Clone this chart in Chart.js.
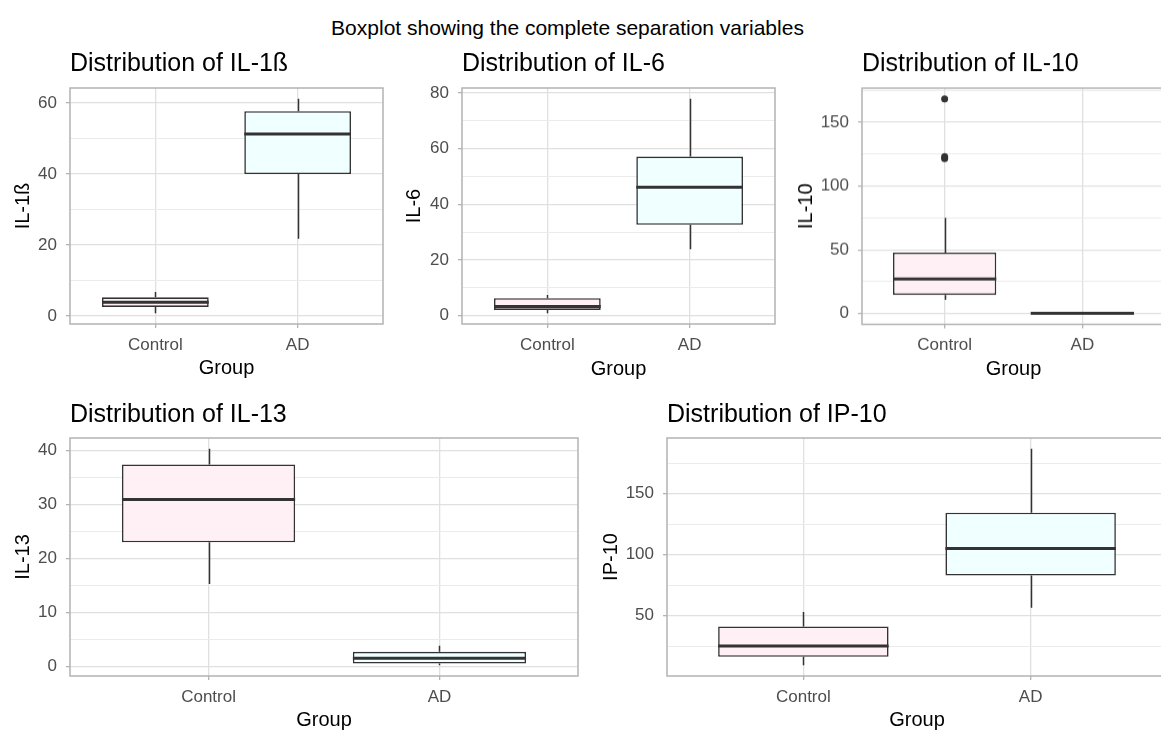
<!DOCTYPE html>
<html>
<head>
<meta charset="utf-8">
<script src="https://cdn.jsdelivr.net/npm/chart.js@4.4.1/dist/chart.umd.min.js"></script>
<style>
  html, body { margin: 0; padding: 0; background: #fff; }
  body { width: 1161px; height: 731px; overflow: hidden; position: relative; font-family: "Liberation Sans", Arial, sans-serif; }
  #mainTitle { position: absolute; left: 0; top: 15px; width: 1135px; text-align: center; font-size: 21px; line-height: 25px; color: #000; }
  canvas { position: absolute; }
</style>
</head>
<body>
<div id="mainTitle">Boxplot showing the complete separation variables</div>
<script>
// groups on the x axis
const groups = ['Control', 'AD'];
const groupFill = ['#FFF0F5', '#F0FFFF'];

// IL-1ß (Control, AD)
const il1bMin = [0.8, 21.8];
const il1bQ1 = [2.6, 40.0];
const il1bMed = [3.9, 51.3];
const il1bQ3 = [5.3, 57.7];
const il1bMax = [6.8, 61.2];
const il1bOut = [[], []];
const il1bTicks = [0, 20, 40, 60];

// IL-6
const il6Min = [0.8, 23.8];
const il6Q1 = [2.0, 32.6];
const il6Med = [3.2, 46.1];
const il6Q3 = [6.2, 57.1];
const il6Max = [7.4, 77.9];
const il6Out = [[], []];
const il6Ticks = [0, 20, 40, 60, 80];

// IL-10
const il10Min = [10.9, 0.0];
const il10Q1 = [14.6, 0.1];
const il10Med = [27.1, 0.3];
const il10Q3 = [47.8, 0.5];
const il10Max = [75.1, 0.8];
const il10Out = [[121.5, 123.0, 168.3], []];
const il10Ticks = [0, 50, 100, 150];

// IL-13
const il13Min = [15.3, 0.26];
const il13Q1 = [23.0, 0.56];
const il13Med = [30.9, 1.56];
const il13Q3 = [37.4, 2.74];
const il13Max = [40.3, 3.85];
const il13Out = [[], []];
const il13Ticks = [0, 10, 20, 30, 40];

// IP-10
const ip10Min = [9.4, 56.5];
const ip10Q1 = [16.3, 82.8];
const ip10Med = [25.1, 105.0];
const ip10Q3 = [41.2, 134.3];
const ip10Max = [53.0, 186.7];
const ip10Out = [[], []];
const ip10Ticks = [50, 100, 150];

const FONT = "'Liberation Sans', Arial, sans-serif";
Chart.defaults.font.family = FONT;

const TITLE_SIZE = 25;
const AXIS_TITLE_SIZE = 20;
const TICK_SIZE = 17;

// whiskers under the boxes, medians on top
const boxWhiskers = {
    id: 'boxWhiskers',
    beforeDatasetsDraw(chart, args, opts) {
        const { ctx, scales: { x, y } } = chart;
        ctx.save();
        ctx.strokeStyle = '#333333';
        ctx.lineWidth = 1.5;
        opts.q1.forEach((q, i) => {
            const px = Math.round(x.getPixelForValue(i + 1)) + 0.5;
            ctx.beginPath();
            ctx.moveTo(px, y.getPixelForValue(opts.max[i]));
            ctx.lineTo(px, y.getPixelForValue(opts.q3[i]));
            ctx.moveTo(px, y.getPixelForValue(q));
            ctx.lineTo(px, y.getPixelForValue(opts.min[i]));
            ctx.stroke();
        });
        ctx.restore();
    },
    afterDatasetsDraw(chart, args, opts) {
        const { ctx, scales: { y } } = chart;
        const meta = chart.getDatasetMeta(0);
        ctx.save();
        ctx.strokeStyle = '#333333';
        ctx.lineWidth = 3;
        meta.data.forEach((bar, i) => {
            const half = bar.width / 2;
            const py = y.getPixelForValue(opts.med[i]);
            ctx.beginPath();
            ctx.moveTo(bar.x - half, py);
            ctx.lineTo(bar.x + half, py);
            ctx.stroke();
        });
        ctx.restore();
    }
};

const panelBorder = {
    id: 'panelBorder',
    afterDraw(chart) {
        const { ctx, chartArea: a } = chart;
        ctx.save();
        ctx.strokeStyle = '#b3b3b3';
        ctx.lineWidth = 1.5;
        ctx.strokeRect(a.left, a.top, a.right - a.left, a.bottom - a.top);
        ctx.restore();
    }
};

function buildPanel(d, place) {
    const outVals = d.out.flat();
    const lo = Math.min(...d.min, ...outVals);
    const hi = Math.max(...d.max, ...outVals);
    const pad = (hi - lo) * 0.05;
    const yMin = lo - pad, yMax = hi + pad;

    const step = d.ticks[1] - d.ticks[0];
    const minors = [];
    for (let i = -1; i < d.ticks.length; i++) {
        const v = (i < 0 ? d.ticks[0] - step : d.ticks[i]) + step / 2;
        if (v > yMin && v < yMax) minors.push(v);
    }
    const isMajor = v => d.ticks.includes(v);

    // layout: put the plot panel where the reference has it
    const [ax0, ay0, ax1, ay1] = place.area;
    const half = AXIS_TITLE_SIZE * 0.6;
    const titleHalf = TITLE_SIZE * 0.6;
    const scaleLeft = place.yTitleX - half;
    const left = Math.floor(scaleLeft) - 2;
    const xHeight = place.groupY + half - ay1;
    const width = ax1 + 6 - left;
    const height = ay1 + xHeight - place.top;

    const canvas = document.createElement('canvas');
    canvas.width = width;
    canvas.height = height;
    canvas.style.left = left + 'px';
    canvas.style.top = place.top + 'px';
    canvas.style.width = width + 'px';
    canvas.style.height = height + 'px';
    document.body.appendChild(canvas);

    const boxes = d.q1.map((q, i) => ({ x: i + 1, y: [q, d.q3[i]] }));
    const outliers = d.out.flatMap((arr, i) => arr.map(v => ({ x: i + 1, y: v })));

    return new Chart(canvas.getContext('2d'), {
        type: 'bar',
        data: {
            datasets: [{
                type: 'bar',
                data: boxes,
                backgroundColor: groupFill,
                borderColor: '#333333',
                borderWidth: 1.6,
                borderSkipped: false,
                categoryPercentage: 0.75,
                barPercentage: 1
            }, {
                type: 'scatter',
                data: outliers,
                pointRadius: 3.5,
                backgroundColor: '#333333',
                borderWidth: 0
            }]
        },
        options: {
            responsive: false,
            animation: false,
            events: [],
            layout: { padding: { left: scaleLeft - left, right: 6, top: 0, bottom: 0 } },
            plugins: {
                legend: { display: false },
                tooltip: { enabled: false },
                title: {
                    display: true,
                    text: d.title,
                    align: 'start',
                    fullSize: false,
                    color: '#000',
                    font: { size: TITLE_SIZE, weight: 'normal', family: FONT, lineHeight: 1.2 },
                    padding: { top: place.titleY - place.top - titleHalf, bottom: ay0 - place.titleY - titleHalf }
                },
                boxWhiskers: { min: d.min, q1: d.q1, med: d.med, q3: d.q3, max: d.max }
            },
            scales: {
                x: {
                    type: 'linear',
                    min: 0.4,
                    max: 2.6,
                    offset: false,
                    afterBuildTicks: s => { s.ticks = groups.map((g, i) => ({ value: i + 1 })); },
                    afterFit: s => { s.height = xHeight; },
                    ticks: {
                        autoSkip: false,
                        maxRotation: 0,
                        padding: 7,
                        color: '#4d4d4d',
                        font: { size: TICK_SIZE },
                        callback: v => groups[v - 1]
                    },
                    grid: { color: '#e0e0e0', lineWidth: 1.3, tickLength: 4, tickColor: '#b3b3b3', tickWidth: 1.3, offset: false },
                    border: { display: false },
                    title: { display: true, text: 'Group', color: '#000', font: { size: AXIS_TITLE_SIZE, lineHeight: 1.2 }, padding: 0 }
                },
                y: {
                    type: 'linear',
                    min: yMin,
                    max: yMax,
                    afterBuildTicks: s => {
                        s.ticks = d.ticks.concat(minors).sort((a, b) => a - b).map(v => ({ value: v }));
                    },
                    afterFit: s => { s.width = ax0 - scaleLeft; },
                    ticks: {
                        autoSkip: false,
                        padding: 9,
                        color: '#4d4d4d',
                        font: { size: TICK_SIZE },
                        callback: v => (isMajor(v) ? String(v) : '')
                    },
                    grid: {
                        color: c => (isMajor(c.tick.value) ? '#e0e0e0' : '#ebebeb'),
                        lineWidth: c => (isMajor(c.tick.value) ? 1.3 : 1),
                        tickLength: 4,
                        tickWidth: 1.3,
                        tickColor: c => (isMajor(c.tick.value) ? '#b3b3b3' : 'rgba(0,0,0,0)')
                    },
                    border: { display: false },
                    title: { display: true, text: d.label, color: '#000', font: { size: AXIS_TITLE_SIZE, lineHeight: 1.2 }, padding: 0 }
                }
            }
        },
        plugins: [boxWhiskers, panelBorder]
    });
}

buildPanel(
    { title: 'Distribution of IL-1ß', label: 'IL-1ß', min: il1bMin, q1: il1bQ1, med: il1bMed, q3: il1bQ3, max: il1bMax, out: il1bOut, ticks: il1bTicks },
    { top: 40, yTitleX: 23.3, area: [70, 88, 383, 324], titleY: 64, groupY: 368 }
);
buildPanel(
    { title: 'Distribution of IL-6', label: 'IL-6', min: il6Min, q1: il6Q1, med: il6Med, q3: il6Q3, max: il6Max, out: il6Out, ticks: il6Ticks },
    { top: 40, yTitleX: 414.5, area: [462, 88, 775, 324], titleY: 64, groupY: 369 }
);
buildPanel(
    { title: 'Distribution of IL-10', label: 'IL-10', min: il10Min, q1: il10Q1, med: il10Med, q3: il10Q3, max: il10Max, out: il10Out, ticks: il10Ticks },
    { top: 40, yTitleX: 806, area: [862, 88, 1165, 324], titleY: 64, groupY: 368.5 }
);
buildPanel(
    { title: 'Distribution of IL-13', label: 'IL-13', min: il13Min, q1: il13Q1, med: il13Med, q3: il13Q3, max: il13Max, out: il13Out, ticks: il13Ticks },
    { top: 392, yTitleX: 23.7, area: [70, 438, 578, 676], titleY: 415.5, groupY: 720 }
);
buildPanel(
    { title: 'Distribution of IP-10', label: 'IP-10', min: ip10Min, q1: ip10Q1, med: ip10Med, q3: ip10Q3, max: ip10Max, out: ip10Out, ticks: ip10Ticks },
    { top: 392, yTitleX: 611, area: [667, 438, 1167, 676], titleY: 415.5, groupY: 720 }
);
</script>
</body>
</html>
